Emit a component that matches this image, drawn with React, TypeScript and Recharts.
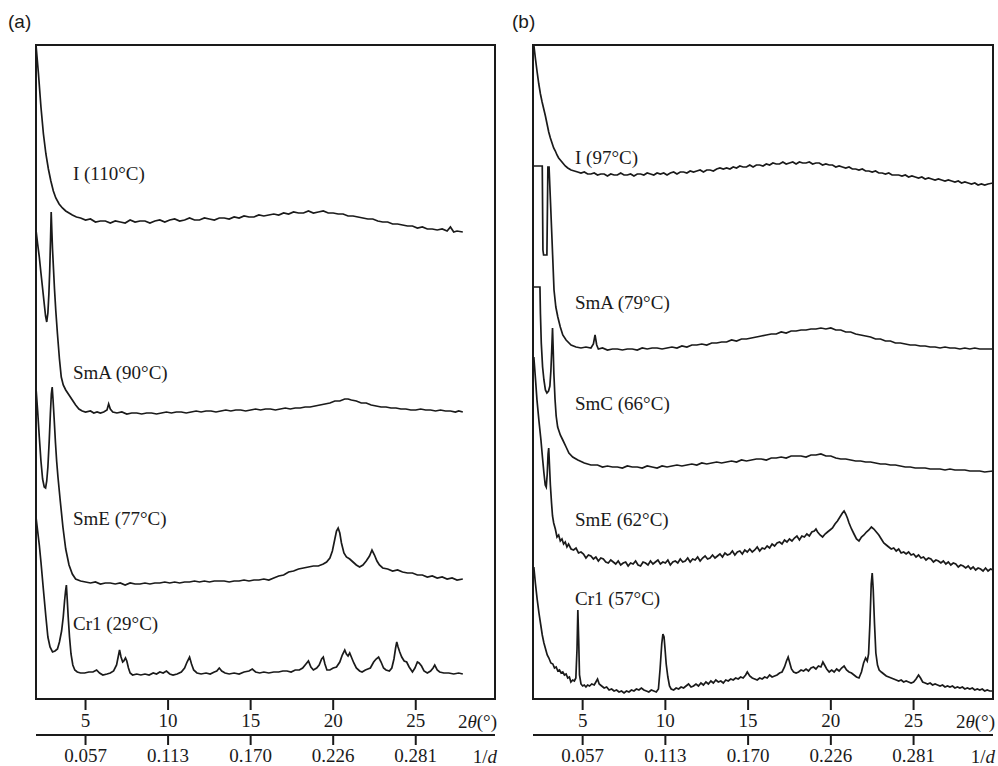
import { LineChart, Line, XAxis, YAxis, ReferenceArea, ReferenceDot } from 'recharts';

type Pt = [number, number];

// 2θ ticks and the matching 1/d labels
const TICKS = [5, 10, 15, 20, 25];
const D_LABELS = ['0.057', '0.113', '0.170', '0.226', '0.281'];

// panel (a) – stacked intensities, arbitrary units
const A_I110: Pt[] = [[2.0,654],[2.15,625],[2.3,592],[2.45,565],[2.6,545],[2.75,530],[2.9,518],[3.05,508],[3.2,501],[3.4,495],[3.6,491],[3.8,488],[4.0,486],[4.2,484],[4.45,482],[4.7,481],[5.0,479],[5.3,480],[5.6,477],[5.9,478],[6.2,478],[6.5,476],[6.8,478],[7.1,477],[7.4,476],[7.7,479],[8.0,477],[8.3,478],[8.6,478],[8.9,476],[9.2,478],[9.5,479],[9.8,477],[10.1,479],[10.4,480],[10.7,478],[11.0,479],[11.3,481],[11.6,479],[11.9,479],[12.2,481],[12.5,480],[12.8,479],[13.1,481],[13.4,481],[13.7,480],[14.0,482],[14.3,481],[14.6,483],[14.9,482],[15.2,482],[15.5,484],[15.8,483],[16.1,484],[16.4,485],[16.7,484],[17.0,486],[17.3,485],[17.6,487],[17.9,486],[18.2,486],[18.5,488],[18.8,486],[19.1,487],[19.4,488],[19.7,486],[20.0,486],[20.3,485],[20.6,485],[20.9,483],[21.2,483],[21.5,482],[21.8,481],[22.1,480],[22.4,480],[22.7,478],[23.0,477],[23.3,477],[23.6,475],[23.9,475],[24.2,474],[24.5,473],[24.8,473],[25.1,471],[25.4,472],[25.7,470],[26.0,470],[26.3,469],[26.6,470],[26.9,468],[27.1,472],[27.3,467],[27.5,468],[27.85,467]];
const A_SMA90: Pt[] = [[2.0,469],[2.1,455],[2.2,442],[2.3,426],[2.41,409],[2.5,395],[2.58,383],[2.65,377],[2.72,386],[2.78,405],[2.83,428],[2.88,459],[2.92,487],[2.96,468],[3.0,450],[3.06,430],[3.12,410],[3.2,388],[3.3,365],[3.42,340],[3.53,322],[3.65,314],[3.8,309],[4.0,304],[4.2,299],[4.4,294],[4.6,290],[4.8,288],[5.0,287],[5.3,288],[5.5,286],[5.7,287],[5.9,286],[6.1,287],[6.3,289],[6.4,295],[6.5,290],[6.65,287],[6.9,286],[7.2,287],[7.5,285],[7.8,286],[8.1,286],[8.4,285],[8.7,286],[9.0,286],[9.3,285],[9.6,286],[9.9,287],[10.2,286],[10.5,287],[10.8,287],[11.1,286],[11.4,287],[11.7,288],[12.0,287],[12.3,288],[12.6,288],[12.9,287],[13.2,288],[13.5,289],[13.8,288],[14.1,289],[14.4,289],[14.7,288],[15.0,289],[15.3,290],[15.6,289],[15.9,290],[16.2,290],[16.5,289],[16.8,290],[17.1,291],[17.4,290],[17.7,291],[18.0,291],[18.3,292],[18.6,292],[18.9,293],[19.2,294],[19.5,295],[19.8,296],[20.1,298],[20.4,298],[20.7,300],[20.9,300],[21.1,299],[21.4,298],[21.7,296],[22.0,296],[22.3,294],[22.6,293],[22.9,292],[23.2,292],[23.5,291],[23.8,291],[24.1,290],[24.4,290],[24.7,289],[25.0,289],[25.3,290],[25.6,289],[25.9,289],[26.2,288],[26.5,289],[26.8,288],[27.1,288],[27.4,287],[27.6,288],[27.85,287]];
const A_SME77: Pt[] = [[2.0,311],[2.1,288],[2.2,262],[2.3,238],[2.4,220],[2.5,212],[2.58,211],[2.65,218],[2.72,232],[2.8,258],[2.87,285],[2.93,305],[2.98,312],[3.03,300],[3.1,280],[3.18,256],[3.25,238],[3.33,222],[3.47,198],[3.63,172],[3.8,150],[4.0,134],[4.2,125],[4.4,120],[4.7,118],[5.0,117],[5.3,116],[5.6,117],[5.9,115],[6.2,116],[6.5,116],[6.8,115],[7.1,116],[7.4,114],[7.7,116],[8.0,115],[8.3,115],[8.6,116],[8.9,115],[9.2,116],[9.5,116],[9.8,117],[10.1,116],[10.4,117],[10.7,116],[11.0,117],[11.3,117],[11.6,118],[11.9,117],[12.2,118],[12.5,117],[12.8,118],[13.1,118],[13.4,118],[13.7,117],[14.0,118],[14.3,118],[14.6,119],[14.9,118],[15.2,119],[15.5,119],[15.8,120],[16.1,119],[16.4,121],[16.7,123],[17.0,124],[17.3,127],[17.6,128],[17.9,130],[18.2,131],[18.5,132],[18.8,133],[19.1,133],[19.4,135],[19.6,137],[19.8,141],[19.95,148],[20.1,160],[20.2,168],[20.3,171],[20.4,166],[20.5,156],[20.65,146],[20.8,142],[21.0,140],[21.2,137],[21.4,134],[21.6,132],[21.8,134],[22.0,138],[22.2,143],[22.35,149],[22.5,144],[22.65,138],[22.8,134],[23.0,131],[23.3,130],[23.6,128],[23.9,129],[24.2,127],[24.5,126],[24.8,126],[25.1,124],[25.4,124],[25.7,122],[26.0,123],[26.3,121],[26.6,122],[26.9,120],[27.2,121],[27.5,119],[27.85,120]];
const A_CR29: Pt[] = [[2.0,182],[2.1,168],[2.2,154],[2.3,137],[2.45,109],[2.6,82],[2.72,62],[2.85,52],[3.0,47],[3.15,48],[3.3,50],[3.42,57],[3.55,68],[3.65,82],[3.73,98],[3.79,108],[3.84,114],[3.89,100],[3.95,82],[4.03,62],[4.12,45],[4.23,34],[4.35,29],[4.5,27],[4.7,26],[4.95,26],[5.2,27],[5.45,27],[5.67,29],[5.85,26],[6.05,24],[6.3,25],[6.5,26],[6.7,28],[6.88,34],[7.0,44],[7.06,49],[7.15,42],[7.25,37],[7.32,38],[7.42,41],[7.5,38],[7.6,31],[7.7,26],[7.85,24],[8.1,25],[8.35,24],[8.6,25],[8.85,24],[9.1,26],[9.3,25],[9.5,27],[9.7,26],[9.9,28],[10.1,25],[10.3,24],[10.55,25],[10.8,27],[11.0,31],[11.15,37],[11.3,42],[11.42,35],[11.55,29],[11.75,26],[12.0,25],[12.3,26],[12.55,25],[12.8,27],[12.95,28],[13.1,31],[13.25,28],[13.45,26],[13.7,25],[14.0,26],[14.3,25],[14.6,27],[14.9,28],[15.1,30],[15.3,27],[15.55,26],[15.8,27],[16.1,26],[16.4,27],[16.7,27],[16.95,28],[17.2,28],[17.45,27],[17.7,29],[17.95,29],[18.15,31],[18.35,35],[18.5,38],[18.65,32],[18.8,29],[19.0,31],[19.15,34],[19.3,40],[19.4,42],[19.5,35],[19.62,29],[19.8,29],[20.0,31],[20.2,32],[20.4,37],[20.55,44],[20.7,49],[20.8,45],[20.9,43],[21.0,46],[21.1,42],[21.25,36],[21.4,31],[21.6,28],[21.75,27],[21.95,29],[22.1,30],[22.25,31],[22.45,37],[22.6,40],[22.75,42],[22.9,37],[23.05,31],[23.2,29],[23.4,28],[23.55,31],[23.68,40],[23.78,51],[23.85,57],[23.93,52],[24.03,47],[24.15,42],[24.3,38],[24.45,37],[24.6,32],[24.8,27],[24.95,31],[25.1,37],[25.2,36],[25.35,33],[25.5,28],[25.7,26],[25.9,28],[26.05,31],[26.15,34],[26.3,29],[26.45,27],[26.7,26],[27.0,26],[27.3,25],[27.6,26],[27.85,25]];

// panel (b)
const B_I97: Pt[] = [[2.05,654],[2.15,640],[2.25,627],[2.35,615],[2.45,605],[2.55,597],[2.65,590],[2.75,583],[2.85,575],[2.95,567],[3.05,561],[3.15,556],[3.25,551],[3.35,548],[3.45,544],[3.55,541],[3.65,539],[3.8,536],[3.95,533],[4.1,531],[4.3,529],[4.5,528],[4.7,527],[4.9,526],[5.1,527],[5.3,525],[5.5,525],[5.7,526],[5.9,524],[6.1,525],[6.3,525],[6.5,523],[6.7,525],[6.9,524],[7.1,524],[7.3,526],[7.5,524],[7.7,524],[7.9,525],[8.1,523],[8.3,525],[8.5,525],[8.7,524],[8.9,526],[9.1,525],[9.3,524],[9.5,526],[9.7,525],[9.9,526],[10.1,524],[10.3,526],[10.5,527],[10.7,525],[10.9,527],[11.1,527],[11.3,526],[11.5,528],[11.7,527],[11.9,528],[12.1,529],[12.3,527],[12.5,529],[12.7,529],[12.9,528],[13.1,530],[13.3,531],[13.5,530],[13.7,531],[13.9,530],[14.1,532],[14.3,531],[14.5,533],[14.7,532],[14.9,532],[15.1,534],[15.3,532],[15.5,534],[15.7,534],[15.9,533],[16.1,535],[16.3,534],[16.5,536],[16.7,535],[16.9,535],[17.1,537],[17.3,535],[17.5,536],[17.7,537],[17.9,535],[18.1,537],[18.3,536],[18.5,536],[18.7,537],[18.9,535],[19.1,536],[19.3,536],[19.5,534],[19.7,535],[19.9,534],[20.1,534],[20.3,532],[20.5,533],[20.7,532],[20.9,531],[21.1,532],[21.3,530],[21.5,530],[21.7,529],[21.9,530],[22.1,528],[22.3,528],[22.5,527],[22.7,528],[22.9,526],[23.1,526],[23.3,525],[23.5,526],[23.7,524],[23.9,524],[24.1,524],[24.3,523],[24.5,524],[24.7,522],[24.9,523],[25.1,522],[25.3,521],[25.5,522],[25.7,520],[25.9,521],[26.1,520],[26.3,519],[26.5,520],[26.7,519],[26.9,518],[27.1,519],[27.3,518],[27.5,517],[27.7,518],[27.9,516],[28.1,517],[28.3,516],[28.5,515],[28.7,516],[28.9,514],[29.1,515],[29.3,514],[29.5,515],[29.8,516]];
const B_SMA79: Pt[] = [[2.05,533],[2.56,533],[2.6,449],[2.64,444],[2.84,444],[2.9,532],[2.97,532],[3.05,500],[3.15,459],[3.27,409],[3.38,392],[3.5,382],[3.65,372],[3.8,364],[4.0,359],[4.3,354],[4.6,352],[4.9,351],[5.2,352],[5.5,351],[5.65,355],[5.75,364],[5.85,354],[5.95,350],[6.2,351],[6.5,349],[6.8,350],[7.1,350],[7.4,349],[7.7,350],[8.0,350],[8.3,349],[8.6,351],[8.9,350],[9.2,351],[9.5,351],[9.8,350],[10.1,351],[10.4,352],[10.7,351],[11.0,353],[11.3,352],[11.6,354],[11.9,354],[12.2,355],[12.5,354],[12.8,356],[13.1,356],[13.4,357],[13.7,357],[14.0,359],[14.3,358],[14.6,360],[14.9,360],[15.2,361],[15.5,362],[15.8,363],[16.1,364],[16.4,365],[16.7,365],[17.0,367],[17.3,366],[17.6,368],[17.9,368],[18.2,369],[18.5,369],[18.8,370],[19.1,370],[19.4,371],[19.7,370],[20.0,371],[20.3,369],[20.6,369],[20.9,367],[21.2,367],[21.5,365],[21.8,364],[22.1,363],[22.4,362],[22.7,360],[23.0,360],[23.3,358],[23.6,358],[23.9,356],[24.2,356],[24.5,355],[24.8,354],[25.1,354],[25.4,353],[25.7,353],[26.0,352],[26.3,352],[26.6,351],[26.9,352],[27.2,351],[27.5,351],[27.8,350],[28.1,351],[28.4,350],[28.7,351],[29.0,350],[29.3,350],[29.8,350]];
const B_SMC66: Pt[] = [[2.05,412],[2.42,412],[2.45,385],[2.5,356],[2.58,332],[2.66,319],[2.75,309],[2.84,306],[2.94,308],[3.02,313],[3.08,328],[3.13,348],[3.18,371],[3.22,350],[3.26,326],[3.33,300],[3.4,283],[3.49,272],[3.65,264],[3.8,259],[4.0,252],[4.17,246],[4.4,242],[4.71,239],[5.1,236],[5.5,234],[5.9,234],[6.2,232],[6.5,233],[6.8,232],[7.1,232],[7.4,231],[7.7,233],[8.0,232],[8.3,232],[8.6,231],[8.9,233],[9.2,232],[9.5,231],[9.8,233],[10.1,232],[10.4,233],[10.7,234],[11.0,233],[11.3,234],[11.6,235],[11.9,234],[12.2,236],[12.5,235],[12.8,236],[13.1,237],[13.4,236],[13.7,237],[14.0,238],[14.3,237],[14.6,239],[14.9,238],[15.2,239],[15.5,240],[15.8,240],[16.1,239],[16.4,241],[16.7,241],[17.0,242],[17.3,241],[17.6,243],[17.9,243],[18.2,243],[18.5,242],[18.8,244],[19.1,244],[19.4,245],[19.7,243],[20.0,243],[20.3,241],[20.6,240],[20.9,240],[21.2,239],[21.5,238],[21.8,238],[22.1,237],[22.4,237],[22.7,236],[23.0,235],[23.3,235],[23.6,234],[23.9,234],[24.2,233],[24.5,232],[24.8,232],[25.1,231],[25.4,231],[25.7,231],[26.0,230],[26.3,230],[26.6,230],[26.9,229],[27.2,230],[27.5,229],[27.8,229],[28.1,229],[28.4,228],[28.7,228],[29.0,228],[29.3,227],[29.8,228]];
const B_SME62: Pt[] = [[2.05,342],[2.15,320],[2.24,299],[2.36,278],[2.48,259],[2.57,242],[2.66,226],[2.74,214],[2.8,212],[2.86,225],[2.91,245],[2.95,251],[2.99,236],[3.05,214],[3.12,196],[3.18,183],[3.25,176],[3.35,170],[3.45,162],[3.55,164],[3.65,158],[3.75,160],[3.85,155],[3.95,157],[4.05,152],[4.15,155],[4.3,150],[4.45,149],[4.6,151],[4.75,146],[4.9,147],[5.05,145],[5.2,141],[5.35,144],[5.5,143],[5.65,140],[5.8,142],[5.95,138],[6.1,141],[6.25,140],[6.4,137],[6.55,136],[6.7,139],[6.85,137],[7.0,135],[7.15,138],[7.3,134],[7.45,136],[7.6,137],[7.75,133],[7.9,136],[8.05,135],[8.2,138],[8.35,134],[8.5,133],[8.65,137],[8.8,136],[8.95,134],[9.1,138],[9.25,135],[9.4,137],[9.55,139],[9.7,135],[9.85,137],[10.0,136],[10.15,139],[10.3,134],[10.45,137],[10.6,138],[10.75,136],[10.9,140],[11.05,137],[11.2,138],[11.35,141],[11.5,137],[11.65,140],[11.8,139],[11.95,142],[12.1,138],[12.25,141],[12.4,143],[12.55,140],[12.7,141],[12.85,144],[13.0,141],[13.15,143],[13.3,145],[13.45,142],[13.6,146],[13.75,144],[13.9,145],[14.05,148],[14.2,144],[14.35,147],[14.5,148],[14.65,145],[14.8,149],[14.95,147],[15.1,150],[15.25,147],[15.4,149],[15.55,152],[15.7,148],[15.85,151],[16.0,150],[16.15,153],[16.3,151],[16.45,155],[16.6,153],[16.75,156],[16.9,157],[17.05,155],[17.2,159],[17.35,157],[17.5,160],[17.65,158],[17.8,161],[17.95,163],[18.1,159],[18.25,163],[18.4,162],[18.55,165],[18.7,163],[18.85,167],[19.0,168],[19.1,170],[19.2,167],[19.35,164],[19.5,162],[19.65,165],[19.8,167],[19.95,169],[20.1,171],[20.25,175],[20.4,178],[20.55,182],[20.7,186],[20.8,188],[20.9,185],[21.0,181],[21.1,176],[21.25,170],[21.4,165],[21.55,160],[21.7,158],[21.85,162],[22.0,164],[22.15,167],[22.3,169],[22.45,172],[22.6,170],[22.75,167],[22.9,164],[23.05,160],[23.2,156],[23.35,154],[23.5,152],[23.65,150],[23.8,151],[23.95,148],[24.1,150],[24.25,146],[24.4,147],[24.55,145],[24.7,147],[24.85,144],[25.0,145],[25.15,142],[25.3,144],[25.45,141],[25.6,142],[25.75,139],[25.9,141],[26.05,140],[26.2,137],[26.35,139],[26.5,138],[26.65,136],[26.8,138],[26.95,135],[27.1,137],[27.25,134],[27.4,136],[27.55,135],[27.7,132],[27.85,134],[28.0,133],[28.15,131],[28.3,133],[28.45,130],[28.6,132],[28.75,129],[28.9,131],[29.05,130],[29.2,128],[29.35,131],[29.5,128],[29.65,130],[29.8,129]];
const B_CR57: Pt[] = [[2.05,132],[2.15,115],[2.25,100],[2.36,86],[2.46,75],[2.56,64],[2.66,56],[2.76,50],[2.86,44],[2.96,41],[3.08,36],[3.2,35],[3.3,31],[3.4,32],[3.5,28],[3.6,29],[3.7,26],[3.8,27],[3.9,24],[4.0,25],[4.1,21],[4.2,22],[4.29,17],[4.4,19],[4.5,18],[4.59,21],[4.66,50],[4.71,89],[4.76,60],[4.81,24],[4.9,15],[5.0,13],[5.1,14],[5.2,12],[5.3,14],[5.42,13],[5.55,15],[5.7,14],[5.8,17],[5.9,20],[6.0,15],[6.15,13],[6.3,11],[6.45,12],[6.6,9],[6.75,10],[6.9,8],[7.05,9],[7.2,7],[7.35,8],[7.5,6],[7.65,8],[7.8,7],[7.95,9],[8.1,8],[8.25,10],[8.4,9],[8.55,11],[8.7,9],[8.85,8],[9.0,7],[9.15,9],[9.3,8],[9.45,7],[9.58,10],[9.68,30],[9.78,55],[9.85,65],[9.92,62],[9.98,50],[10.05,35],[10.15,22],[10.25,13],[10.35,10],[10.5,9],[10.65,11],[10.8,10],[10.95,12],[11.1,11],[11.25,13],[11.4,15],[11.55,12],[11.7,13],[11.85,15],[12.0,13],[12.15,16],[12.3,14],[12.45,17],[12.6,15],[12.75,18],[12.9,16],[13.05,19],[13.2,17],[13.35,18],[13.5,16],[13.65,19],[13.8,18],[13.95,20],[14.1,19],[14.25,21],[14.4,20],[14.55,22],[14.7,21],[14.85,24],[14.95,27],[15.1,23],[15.25,21],[15.4,20],[15.55,19],[15.7,21],[15.85,20],[16.0,22],[16.15,21],[16.3,24],[16.45,22],[16.6,23],[16.75,24],[16.9,26],[17.05,27],[17.2,32],[17.32,38],[17.42,42],[17.52,36],[17.62,30],[17.75,27],[17.9,26],[18.05,27],[18.2,29],[18.35,28],[18.5,30],[18.65,28],[18.8,31],[18.95,32],[19.1,30],[19.25,33],[19.4,32],[19.52,37],[19.62,34],[19.75,30],[19.9,27],[20.05,29],[20.2,27],[20.35,30],[20.5,28],[20.65,31],[20.8,33],[20.95,29],[21.1,27],[21.25,26],[21.4,24],[21.55,22],[21.7,21],[21.85,27],[21.98,36],[22.1,41],[22.2,38],[22.28,45],[22.36,75],[22.44,115],[22.5,126],[22.56,110],[22.64,75],[22.72,46],[22.82,34],[22.92,29],[23.05,27],[23.2,25],[23.35,23],[23.5,22],[23.65,21],[23.8,20],[23.95,19],[24.1,18],[24.25,19],[24.4,17],[24.55,18],[24.7,17],[24.85,16],[25.0,17],[25.15,20],[25.3,24],[25.42,21],[25.55,17],[25.7,16],[25.85,15],[26.0,16],[26.15,14],[26.3,15],[26.45,14],[26.6,13],[26.75,14],[26.9,12],[27.05,13],[27.2,12],[27.35,13],[27.5,11],[27.65,12],[27.8,11],[27.95,12],[28.1,10],[28.25,11],[28.4,10],[28.55,11],[28.7,9],[28.85,10],[29.0,9],[29.15,10],[29.3,8],[29.45,9],[29.6,8],[29.8,8]];

const LABELS_A = [
  { text: 'I (110°C)', t: 4.24, v: 526 },
  { text: 'SmA (90°C)', t: 4.24, v: 327 },
  { text: 'SmE (77°C)', t: 4.24, v: 181 },
  { text: 'Cr1 (29°C)', t: 4.24, v: 76 },
];
const LABELS_B = [
  { text: 'I (97°C)', t: 4.54, v: 542 },
  { text: 'SmA (79°C)', t: 4.54, v: 397 },
  { text: 'SmC (66°C)', t: 4.54, v: 296 },
  { text: 'SmE (62°C)', t: 4.54, v: 180 },
  { text: 'Cr1 (57°C)', t: 4.54, v: 101 },
];

const INK = '#1a1a1a';
const SERIF = "'Liberation Serif', 'Times New Roman', Times, serif";
const SANS = "'Liberation Sans', Arial, sans-serif";
const X_DOMAIN: [number, number] = [2, 29.8];
const Y_TOP = 654;

const toRows = (pts: Pt[]) => pts.map(([t, v]) => ({ t, v }));

const tickStyle = { fill: INK, fontSize: 19, fontFamily: SERIF, style: { fontFamily: SERIF } };

function UnitLabel(props: any) {
  const vb = props.viewBox || { x: 0, y: 0, width: 0, height: 0 };
  return (
    <text
      x={vb.x + vb.width + 2}
      y={vb.y + props.base}
      textAnchor="end"
      fill={INK}
      fontSize={19}
      style={{ fontFamily: SERIF }}
    >
      {props.pre}
      <tspan fontStyle="italic">{props.ital}</tspan>
      {props.post}
    </text>
  );
}

interface PanelProps {
  tag: string;
  tagLeft: number;
  left: number;
  marginLeft: number;
  marginRight: number;
  series: Pt[][];
  labels: { text: string; t: number; v: number }[];
}

function Panel({ tag, tagLeft, left, marginLeft, marginRight, series, labels }: PanelProps) {
  return (
    <div style={{ position: 'absolute', left, top: 0, width: 499, height: 766 }}>
      <div
        style={{
          position: 'absolute',
          left: tagLeft,
          top: 11,
          fontFamily: SANS,
          fontSize: 19,
          color: INK,
          lineHeight: '22px',
        }}
      >
        {tag}
      </div>
      <LineChart
        width={499}
        height={766}
        margin={{ top: 45, right: marginRight, left: marginLeft, bottom: 0 }}
      >
        {/* 2θ scale, right under the frame */}
        <XAxis
          xAxisId={0}
          type="number"
          dataKey="t"
          domain={X_DOMAIN}
          allowDataOverflow
          ticks={TICKS}
          interval={0}
          height={36}
          tickSize={11}
          tickMargin={4}
          axisLine={{ stroke: INK, strokeWidth: 2 }}
          tickLine={{ stroke: INK, strokeWidth: 2 }}
          tick={tickStyle}
          label={<UnitLabel pre="2" ital="θ" post="(°)" base={29} />}
        />
        {/* 1/d scale, below */}
        <XAxis
          xAxisId={1}
          type="number"
          dataKey="t"
          domain={X_DOMAIN}
          allowDataOverflow
          ticks={TICKS}
          interval={0}
          height={31}
          tickSize={10}
          tickMargin={4}
          axisLine={{ stroke: INK, strokeWidth: 2 }}
          tickLine={{ stroke: INK, strokeWidth: 2 }}
          tick={tickStyle}
          tickFormatter={(v: number) => D_LABELS[TICKS.indexOf(v)] ?? ''}
          label={<UnitLabel pre="1/" ital="d" post="" base={28} />}
        />
        <YAxis hide type="number" domain={[0, Y_TOP]} allowDataOverflow />
        <ReferenceArea
          xAxisId={0}
          x1={X_DOMAIN[0]}
          x2={X_DOMAIN[1]}
          y1={0}
          y2={Y_TOP}
          fill="none"
          fillOpacity={0}
          stroke={INK}
          strokeWidth={2}
          ifOverflow="visible"
        />
        {series.map((s, i) => (
          <Line
            key={i}
            xAxisId={0}
            data={toRows(s)}
            dataKey="v"
            type="linear"
            stroke={INK}
            strokeWidth={1.7}
            dot={false}
            activeDot={false}
            isAnimationActive={false}
          />
        ))}
        {labels.map((l) => (
          <ReferenceDot
            key={l.text}
            xAxisId={0}
            x={l.t}
            y={l.v}
            r={0}
            fill="none"
            stroke="none"
            ifOverflow="visible"
            label={{
              value: l.text,
              position: 'right',
              offset: 0,
              fill: INK,
              fontSize: 19,
              fontFamily: SERIF,
              style: { fontFamily: SERIF },
            }}
          />
        ))}
      </LineChart>
    </div>
  );
}

export default function App() {
  return (
    <div
      style={{
        position: 'absolute',
        left: 0,
        top: 0,
        width: 998,
        height: 766,
        background: '#fff',
        overflow: 'hidden',
        fontFamily: SERIF,
      }}
    >
      <Panel
        tag="(a)"
        tagLeft={8}
        left={0}
        marginLeft={36}
        marginRight={4}
        series={[A_I110, A_SMA90, A_SME77, A_CR29]}
        labels={LABELS_A}
      />
      <Panel
        tag="(b)"
        tagLeft={13}
        left={499}
        marginLeft={34}
        marginRight={5}
        series={[B_I97, B_SMA79, B_SMC66, B_SME62, B_CR57]}
        labels={LABELS_B}
      />
    </div>
  );
}
